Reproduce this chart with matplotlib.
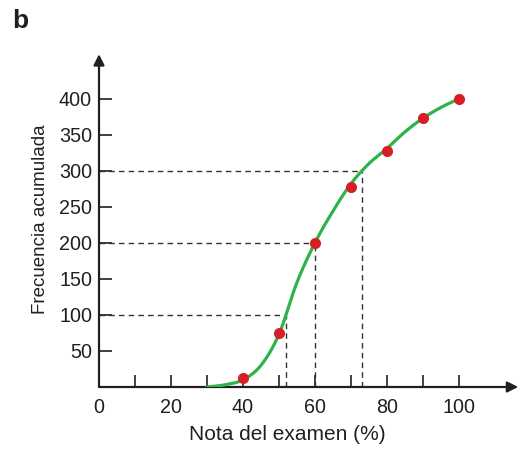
import numpy as np
import matplotlib
matplotlib.use('Agg')
import matplotlib.pyplot as plt

plt.rcParams['font.family'] = ['Liberation Sans', 'DejaVu Sans']

# data
notas = [40, 50, 60, 70, 80, 90, 100]
frec_acum = [12, 75, 200, 277, 327, 373, 400]

# points (every 5 %)
curva_x = [30, 35, 40, 45, 50, 55, 60, 65, 70, 75, 80, 85, 90, 95, 100]
curva_y = [0, 3, 10, 30, 73, 145, 200, 244, 282, 310, 331, 354, 373, 388, 400]

# percentile read-offs (dashed guides)
guia_y = [100, 200, 300]
guia_x = [52, 60, 73]

x_ticks = [0, 20, 40, 60, 80, 100]
x_minor = [10, 30, 50, 70, 90]
y_ticks = [50, 100, 150, 200, 250, 300, 350, 400]

black = '#231f20'
green = '#2db34a'
red = '#d71f27'


def catmull_rom(xs, ys, n=30):
    # smooth curve through the traced points
    px = np.array(xs, dtype=float)
    py = np.array(ys, dtype=float)
    px = np.concatenate([[2 * px[0] - px[1]], px, [2 * px[-1] - px[-2]]])
    py = np.concatenate([[2 * py[0] - py[1]], py, [2 * py[-1] - py[-2]]])
    out_x, out_y = [], []
    t = np.linspace(0, 1, n, endpoint=False)
    for i in range(1, len(px) - 2):
        for arr, out in ((px, out_x), (py, out_y)):
            p0, p1, p2, p3 = arr[i - 1], arr[i], arr[i + 1], arr[i + 2]
            out.extend(0.5 * ((2 * p1) + (-p0 + p2) * t
                              + (2 * p0 - 5 * p1 + 4 * p2 - p3) * t ** 2
                              + (-p0 + 3 * p1 - 3 * p2 + p3) * t ** 3))
    out_x.append(xs[-1])
    out_y.append(ys[-1])
    return np.array(out_x), np.array(out_y)


fig = plt.figure(figsize=(5.17, 4.5), dpi=100)
ax = fig.add_axes([99 / 517, 63 / 450, 421 / 517, 335 / 450])
ax.set_xlim(0, 117)
ax.set_ylim(0, 465)
for s in ax.spines.values():
    s.set_visible(False)

# axes with arrow heads
ax.annotate('', xy=(116.5, 0), xytext=(0, 0),
            arrowprops=dict(arrowstyle='-|>', color=black, lw=1.6, mutation_scale=16,
                            shrinkA=0, shrinkB=0), annotation_clip=False)
ax.annotate('', xy=(0, 462), xytext=(0, 0),
            arrowprops=dict(arrowstyle='-|>', color=black, lw=1.6, mutation_scale=16,
                            shrinkA=0, shrinkB=0), annotation_clip=False)

# dashed guides
for gx, gy in zip(guia_x, guia_y):
    ax.plot([0, gx], [gy, gy], color='#333333', lw=1.0, dashes=(4, 3))
    ax.plot([gx, gx], [0, gy], color='#333333', lw=1.0, dashes=(4, 3))

cx, cy = catmull_rom(curva_x, curva_y)
ax.plot(cx, cy, color=green, lw=2.3, solid_capstyle='round', zorder=3)
ax.plot(notas, frec_acum, 'o', color=red, ms=8, mec='none', zorder=4)

ax.set_xticks(x_ticks)
ax.set_xticks(x_minor, minor=True)
ax.set_yticks(y_ticks)
ax.tick_params(axis='both', which='both', direction='in', length=9, width=1.2,
               color=black, labelsize=14.2, labelcolor=black)
ax.tick_params(axis='x', pad=8)
ax.tick_params(axis='y', pad=5)

ax.set_xlabel('Nota del examen (%)', fontsize=15, color=black, labelpad=6)
ax.xaxis.label.set_x((287 - 99) / 421)  # label sits centred under the 0-100 range
ax.set_ylabel('Frecuencia acumulada', fontsize=13.5, color=black, labelpad=7)

fig.text(12 / 517, 1 - 21 / 450, 'b', fontsize=19, fontweight='bold', color=black,
         va='center', ha='left')

fig.savefig('out.png', dpi=100)
